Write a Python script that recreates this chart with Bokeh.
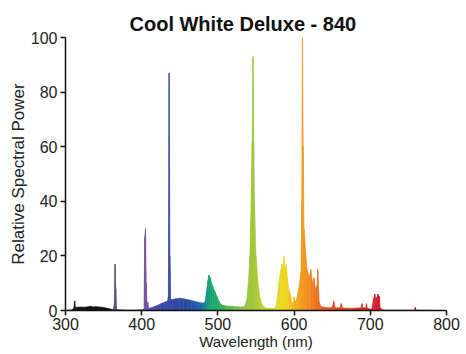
from bokeh.plotting import figure
from bokeh.models import ColumnDataSource, Range1d, FixedTicker
from bokeh.embed import file_html
from bokeh.resources import INLINE

# ---- data ----
wavelength = [300, 308, 311, 312, 313, 315, 320, 325, 330, 334, 335, 340, 345, 350, 355, 360, 363,
              364, 365, 366, 367, 370, 380, 395, 403, 404, 405, 406, 407, 408, 409, 412, 420, 425,
              430, 434, 435, 436, 437, 438, 440, 445, 450, 455, 460, 465, 470, 475, 480, 483, 485,
              487, 488, 490, 493, 496, 499, 502, 505, 510, 520, 530, 535, 538, 540, 542, 544, 545,
              546, 547, 548, 550, 552, 555, 558, 562, 570, 576, 578, 580, 582, 584, 585, 587, 588,
              590, 591, 593, 595, 597, 599, 600, 601, 603, 606, 609, 610, 611, 612, 613, 615, 617,
              620, 622, 624, 626, 628, 630, 631, 633, 635, 640, 645, 650, 652, 654, 660, 662, 664,
              675, 688, 689, 690, 694, 695, 696, 702, 704, 706, 707, 709, 710, 712, 713, 716, 720,
              758, 759, 760, 800]
power = [0, 0.2, 0.8, 3.5, 1.0, 1.2, 1.3, 1.2, 1.4, 1.6, 1.3, 1.4, 1.3, 1.1, 0.8, 0.5, 0.4,
         2, 17, 8, 0.6, 0.3, 0.2, 0.2, 0.5, 27, 30, 10, 1, 3, 0.8, 1, 1.8, 2.5,
         3, 3.5, 5, 87, 20, 4, 4, 4.3, 4.5, 4.3, 4, 3.7, 3.3, 3, 2.7, 3, 7,
         11, 13, 12, 9, 7, 5, 3, 2, 1.7, 1.5, 1.3, 1.5, 4, 10, 20, 45, 62,
         93, 62, 40, 20, 12, 5, 2, 1, 0.7, 1, 5, 10, 14, 17, 16, 20, 15,
         17, 12, 8, 6, 3, 2, 5, 3, 4, 8, 14, 40, 100, 60, 30, 22, 15,
         12, 15, 10, 12, 8, 9, 15, 3, 1.5, 1.2, 1, 1.2, 3.5, 1, 1, 2.5, 0.9,
         0.8, 1, 2.5, 1, 1, 2.5, 0.8, 0.5, 4, 6, 4, 5, 6, 5, 1, 0.3, 0.1,
         0.1, 1.2, 0.1, 0]
x_ticks = [300, 400, 500, 600, 700, 800]
y_ticks = [0, 20, 40, 60, 80, 100]

# ---- colour styling by wavelength ----
stops = [(300, "#111111"), (360, "#111111"), (363, "#5e4e76"), (380, "#644e84"),
         (405, "#74509e"), (425, "#3e48a4"), (460, "#2a4ca4"), (478, "#1f64ac"),
         (488, "#12a07a"), (505, "#2fae5a"), (525, "#80be44"), (548, "#a2c83a"),
         (572, "#d2d62c"), (588, "#f0d81e"), (603, "#f2aa1e"), (620, "#f08a1e"),
         (640, "#e85a22"), (680, "#e03a22"), (705, "#d42030"), (800, "#c01e30")]


def hex2rgb(h):
    return tuple(int(h[i:i + 2], 16) for i in (1, 3, 5))


def wl_color(w):
    for (w0, c0), (w1, c1) in zip(stops[:-1], stops[1:]):
        if w0 <= w <= w1:
            t = (w - w0) / (w1 - w0) if w1 > w0 else 0
            a, b = hex2rgb(c0), hex2rgb(c1)
            r = [round(a[k] + (b[k] - a[k]) * t) for k in range(3)]
            return "#%02x%02x%02x" % tuple(r)
    return stops[-1][1]


xs, ys, cols = [], [], []
for i in range(len(wavelength) - 1):
    x0, x1 = wavelength[i], wavelength[i + 1]
    y0, y1 = power[i], power[i + 1]
    xs.append([x0, x1, x1, x0])
    ys.append([0, 0, y1, y0])
    cols.append(wl_color((x0 + x1) / 2))

src = ColumnDataSource(dict(xs=xs, ys=ys, color=cols))

p = figure(width=466, height=354, output_backend="svg", toolbar_location=None,
           x_range=Range1d(300, 800), y_range=Range1d(0, 100),
           min_border_left=65, min_border_right=20, min_border_top=37, min_border_bottom=44,
           title="Cool White Deluxe - 840")
p.patches("xs", "ys", source=src, fill_color="color", line_color="color", line_width=0.6)

p.title.align = "left"
p.title.offset = 64
p.title.standoff = 6
p.title.text_font = "Liberation Sans"
p.title.text_font_size = "20px"
p.title.text_font_style = "bold"
p.title.text_color = "#111111"

p.outline_line_color = None
p.grid.visible = False
p.background_fill_color = "white"

for ax in (p.xaxis, p.yaxis):
    ax.axis_line_width = 1.5
    ax.axis_line_color = "#111111"
    ax.major_tick_line_width = 1.5
    ax.major_tick_line_color = "#111111"
    ax.major_tick_in = 0
    ax.major_tick_out = 5
    ax.minor_tick_line_color = None
    ax.major_label_text_font = "Liberation Sans"
    ax.major_label_text_font_size = "16px"
    ax.major_label_text_color = "#222222"
    ax.axis_label_text_font = "Liberation Sans"
    ax.axis_label_text_font_style = "normal"
    ax.axis_label_text_color = "#222222"

p.xaxis.axis_label_text_font_size = "15px"
p.yaxis.axis_label_text_font_size = "17px"
p.xaxis.ticker = FixedTicker(ticks=x_ticks)
p.yaxis.ticker = FixedTicker(ticks=y_ticks)
p.xaxis.axis_label = "Wavelength (nm)"
p.yaxis.axis_label = "Relative Spectral Power"
p.xaxis.major_label_standoff = 2
p.xaxis.axis_label_standoff = 0
p.yaxis.major_label_standoff = 3
p.yaxis.axis_label_standoff = 0

open("out.html", "w").write(file_html(p, INLINE))
